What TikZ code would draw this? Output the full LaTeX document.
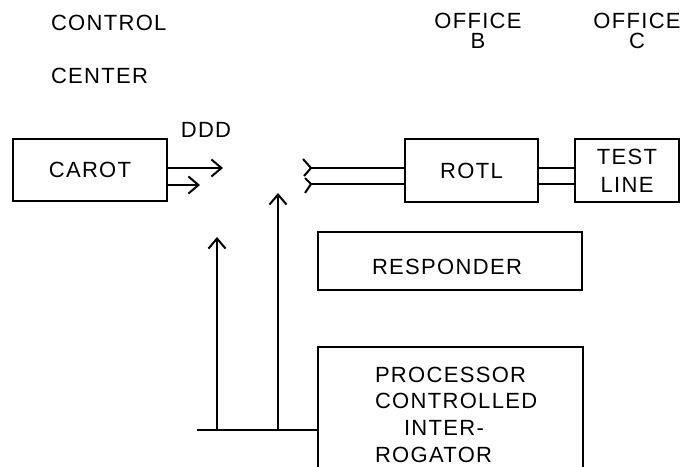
\documentclass[tikz,border=0pt]{standalone}
\usepackage{fontspec}
\setmainfont{Liberation Sans}[LetterSpace=6]
\usetikzlibrary{arrows.meta}
\begin{document}
\begin{tikzpicture}[x=0.5pt,y=-0.5pt,
  line width=1pt,
  every node/.style={font=\fontsize{11}{12}\selectfont, inner sep=0pt},
  blk/.style={draw, line width=1pt, rectangle},
  lbl/.style={},
  arr/.style={-{Straight Barb[length=5pt,width=8.5pt]}}]
\useasboundingbox (0,0) rectangle (685,466);
\clip (0,0) rectangle (685,466);
% headers
\node[lbl, anchor=west] (control) at (50,22.5) {CONTROL};
\node[lbl, anchor=west] (center) at (50,75.5) {CENTER};
\node[lbl, align=center, font=\fontsize{11}{10}\selectfont] (officeb) at (478,31) {OFFICE\\B};
\node[lbl, align=center, font=\fontsize{11}{10}\selectfont] (officec) at (637,31) {OFFICE\\C};
\node[lbl] (ddd) at (206,129.5) {DDD};
% boxes
\node[blk, minimum width=77pt, minimum height=31pt] (carot) at (90,170) {CAROT};
\node[blk, minimum width=66.5pt, minimum height=31.5pt] (rotl) at (471.5,170.5) {ROTL};
\node[blk, minimum width=52pt, minimum height=31.5pt, align=center, font=\fontsize{11}{14}\selectfont] (testline) at (627,170.5) {TEST\\LINE};
\node[blk, minimum width=132pt, minimum height=29pt] (responder) at (450,261) {};
\node[lbl] (respondertext) at (447,266.5) {RESPONDER};
\node[blk, minimum width=132.5pt, minimum height=66.5pt] (pci) at (450.5,413.5) {};
\node[lbl, anchor=north west, align=left, font=\fontsize{11}{13.3}\selectfont] (pcitext) at (374,366)
  {PROCESSOR\\CONTROLLED\\\hspace*{14.5pt}INTER-\\ROGATOR};
% CAROT outgoing arrows
\coordinate (a1) at (223,168);
\coordinate (a2) at (200,185);
\draw[arr] (a1 -| carot.east) -- (a1);
\draw[arr] (a2 -| carot.east) -- (a2);
% forked line ends to ROTL
\coordinate (f1) at (311,168);
\coordinate (f2) at (311,184);
\draw ([shift={(-8,-9)}]f1) -- (f1) -- ([shift={(-7,8)}]f1);
\draw ([shift={(-6,-6)}]f2) -- (f2) -- ([shift={(-6,9)}]f2);
\draw (f1) -- (f1 -| rotl.west);
\draw (f2) -- (f2 -| rotl.west);
% ROTL to TEST LINE
\draw (rotl.east |- f1) -- (testline.west |- f1);
\draw (rotl.east |- f2) -- (testline.west |- f2);
% interrogator bus and arrows
\coordinate (h) at (197,430);
\draw (h) -- (h -| pci.west);
\coordinate (t1) at (217,237);
\coordinate (t2) at (278,193);
\draw[arr] (t1 |- h) -- (t1);
\draw[arr] (t2 |- h) -- (t2);
\end{tikzpicture}
\end{document}
